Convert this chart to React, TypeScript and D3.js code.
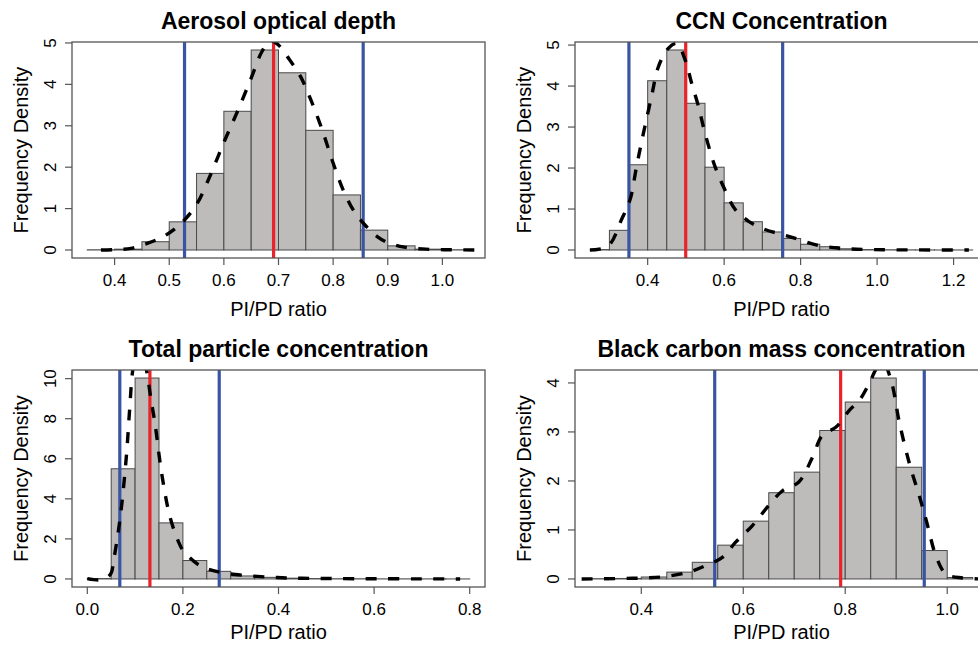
import React from 'react';
import * as d3 from 'd3';

// histogram densities, bins of width 0.05
const aodBreakStart = 0.35;
const aodHist = [0.005, 0.02, 0.2, 0.68, 1.85, 3.35, 4.83, 4.28, 2.89, 1.33, 0.48, 0.1, 0.02, 0.005];
const aodCurveX = [0.375, 0.4, 0.43, 0.46, 0.49, 0.52, 0.55, 0.575, 0.6, 0.625, 0.65, 0.67, 0.685, 0.7, 0.72, 0.74, 0.76, 0.78, 0.8, 0.82, 0.84, 0.86, 0.88, 0.9, 0.93, 0.97, 1.02, 1.07];
const aodCurveY = [0, 0.01, 0.04, 0.16, 0.33, 0.62, 1.1, 1.8, 2.6, 3.35, 4.15, 4.8, 5.05, 4.95, 4.6, 4.2, 3.6, 2.9, 2.1, 1.4, 0.9, 0.58, 0.33, 0.18, 0.07, 0.02, 0.005, 0];
const aodLines = [0.528, 0.691, 0.855];

const ccnBreakStart = 0.25;
const ccnHist = [0.01, 0.48, 2.08, 4.13, 4.88, 3.58, 2.02, 1.15, 0.69, 0.44, 0.28, 0.14, 0.08, 0.03, 0.01, 0.005, 0.003, 0.002, 0.001, 0.001];
const ccnCurveX = [0.249, 0.297, 0.332, 0.354, 0.371, 0.389, 0.41, 0.428, 0.454, 0.476, 0.498, 0.515, 0.533, 0.55, 0.576, 0.602, 0.629, 0.664, 0.707, 0.751, 0.794, 0.847, 0.908, 0.986, 1.1, 1.24];
const ccnCurveY = [0, 0.1, 0.75, 1.23, 2.04, 2.85, 3.74, 4.47, 4.92, 5.04, 4.64, 4.07, 3.5, 2.85, 2.04, 1.47, 0.99, 0.7, 0.5, 0.38, 0.26, 0.11, 0.04, 0.01, 0.003, 0];
const ccnLines = [0.351, 0.4995, 0.753];

const tpcBreakStart = 0.0;
const tpcHist = [0.02, 5.5, 10.03, 2.8, 0.92, 0.38, 0.15, 0.08, 0.04, 0.02, 0.01, 0.01, 0.005, 0.005, 0.003, 0.002];
const tpcCurveX = [0, 0.025, 0.04, 0.05, 0.055, 0.065, 0.072, 0.082, 0.089, 0.095, 0.105, 0.115, 0.124, 0.133, 0.142, 0.156, 0.173, 0.19, 0.201, 0.236, 0.278, 0.334, 0.397, 0.45, 0.515, 0.6, 0.7, 0.78];
const tpcCurveY = [0.02, -0.05, 0.05, 0.3, 0.9, 2.4, 3.7, 6.2, 8.6, 10.4, 11.5, 11.3, 10.4, 9.0, 7.7, 5.2, 3.1, 1.9, 1.4, 0.66, 0.33, 0.17, 0.07, 0.035, 0.02, 0.01, 0.005, 0];
const tpcLines = [0.068, 0.131, 0.276];

const bcBreakStart = 0.3;
const bcHist = [0.005, 0.01, 0.04, 0.14, 0.34, 0.69, 1.18, 1.76, 2.18, 3.03, 3.61, 4.1, 2.28, 0.58, 0.03];
const bcCurveX = [0.283, 0.32, 0.362, 0.405, 0.447, 0.493, 0.526, 0.559, 0.585, 0.618, 0.65, 0.677, 0.709, 0.736, 0.755, 0.782, 0.808, 0.828, 0.847, 0.862, 0.875, 0.89, 0.906, 0.926, 0.946, 0.959, 0.979, 0.998, 1.03, 1.07];
const bcCurveY = [0, 0.003, 0.01, 0.02, 0.05, 0.14, 0.27, 0.44, 0.75, 1.09, 1.5, 1.8, 1.98, 2.49, 2.93, 3.1, 3.44, 3.65, 3.99, 4.3, 4.4, 4.05, 3.2, 2.35, 1.67, 1.19, 0.44, 0.1, 0.02, 0];
const bcLines = [0.544, 0.791, 0.955];

const titles = ['Aerosol optical depth', 'CCN Concentration', 'Total particle concentration', 'Black carbon mass concentration'];
const xTickSets = [
  [0.4, 0.5, 0.6, 0.7, 0.8, 0.9, 1.0],
  [0.4, 0.6, 0.8, 1.0, 1.2],
  [0.0, 0.2, 0.4, 0.6, 0.8],
  [0.4, 0.6, 0.8, 1.0],
];
const yTickSets = [
  [0, 1, 2, 3, 4, 5],
  [0, 1, 2, 3, 4, 5],
  [0, 2, 4, 6, 8, 10],
  [0, 1, 2, 3, 4],
];
const xLimits = [[0.35, 1.05], [0.25, 1.25], [0.0, 0.8], [0.3, 1.05]];
const binWidth = 0.05;

const FONT = '"Liberation Sans", Arial, Helvetica, sans-serif';
const BAR_FILL = '#bebbbb';
const RED = '#e8232a';
const BLUE = '#3a54a4';

type PanelProps = {
  idx: number;
  left: number;
  top: number;
  width: number;
  height: number;
  start: number;
  hist: number[];
  cx: number[];
  cy: number[];
  lines: number[];
  xTitleY: number;
};

const Panel = ({ idx, left, top, width, height, start, hist, cx, cy, lines, xTitleY }: PanelProps) => {
  const [a, b] = xLimits[idx];
  const xPad = (b - a) * 0.04;
  const yMax = d3.max(hist) as number;
  const yPad = yMax * 0.04;
  const x = d3.scaleLinear().domain([a - xPad, b + xPad]).range([left, left + width]);
  const y = d3.scaleLinear().domain([-yPad, yMax + yPad]).range([top + height, top]);
  const bottom = top + height;
  const clipId = `clip${idx}`;
  const line = d3
    .line<number>()
    .x((_, i) => x(cx[i]))
    .y((d) => y(d))
    .curve(d3.curveCatmullRom);
  const fmtX = d3.format('.1f');

  return (
    <g>
      <defs>
        <clipPath id={clipId}>
          <rect x={left} y={top} width={width} height={height} />
        </clipPath>
      </defs>
      <text x={left + width / 2} y={top - 13.5} textAnchor="middle" fontFamily={FONT} fontWeight="bold" fontSize={23}>
        {titles[idx]}
      </text>
      <g clipPath={`url(#${clipId})`}>
        {hist.map((v, i) => {
          const x0 = start + i * binWidth;
          return (
            <rect
              key={i}
              x={x(x0)}
              y={y(v)}
              width={x(x0 + binWidth) - x(x0)}
              height={y(0) - y(v)}
              fill={BAR_FILL}
              stroke="#4a4a4a"
              strokeWidth={1}
            />
          );
        })}
        {lines.map((v, i) => (
          <line key={i} x1={x(v)} x2={x(v)} y1={top} y2={bottom} stroke={i === 1 ? RED : BLUE} strokeWidth={3.2} />
        ))}
        <path d={line(cy) || ''} fill="none" stroke="#000" strokeWidth={3.4} strokeDasharray="11,11.5" />
      </g>
      <rect x={left} y={top} width={width} height={height} fill="none" stroke="#555" strokeWidth={1.3} />
      {xTickSets[idx].map((t) => (
        <g key={t}>
          <line x1={x(t)} x2={x(t)} y1={bottom} y2={bottom + 7} stroke="#555" strokeWidth={1.2} />
          <text x={x(t)} y={bottom + 28} textAnchor="middle" fontFamily={FONT} fontSize={17}>
            {fmtX(t)}
          </text>
        </g>
      ))}
      {yTickSets[idx].map((t) => (
        <g key={t}>
          <line x1={left - 7} x2={left} y1={y(t)} y2={y(t)} stroke="#555" strokeWidth={1.2} />
          <text
            transform={`translate(${left - 16},${y(t)}) rotate(-90)`}
            textAnchor="middle"
            fontFamily={FONT}
            fontSize={17}
          >
            {t}
          </text>
        </g>
      ))}
      <text x={left + width / 2} y={xTitleY} textAnchor="middle" fontFamily={FONT} fontSize={20}>
        PI/PD ratio
      </text>
      <text
        transform={`translate(${left - 44},${top + height / 2}) rotate(-90)`}
        textAnchor="middle"
        fontFamily={FONT}
        fontSize={20}
      >
        Frequency Density
      </text>
    </g>
  );
};

export default function App() {
  return (
    <div style={{ position: 'absolute', left: 0, top: 0 }}>
      <svg width={978} height={646} style={{ display: 'block', background: '#fff' }}>
        <Panel idx={0} left={72} top={42} width={413} height={216} start={aodBreakStart} hist={aodHist} cx={aodCurveX} cy={aodCurveY} lines={aodLines} xTitleY={316} />
        <Panel idx={1} left={575} top={42} width={413} height={216} start={ccnBreakStart} hist={ccnHist} cx={ccnCurveX} cy={ccnCurveY} lines={ccnLines} xTitleY={316} />
        <Panel idx={2} left={72} top={370} width={413} height={217} start={tpcBreakStart} hist={tpcHist} cx={tpcCurveX} cy={tpcCurveY} lines={tpcLines} xTitleY={639} />
        <Panel idx={3} left={575} top={370} width={413} height={217} start={bcBreakStart} hist={bcHist} cx={bcCurveX} cy={bcCurveY} lines={bcLines} xTitleY={639} />
      </svg>
    </div>
  );
}
